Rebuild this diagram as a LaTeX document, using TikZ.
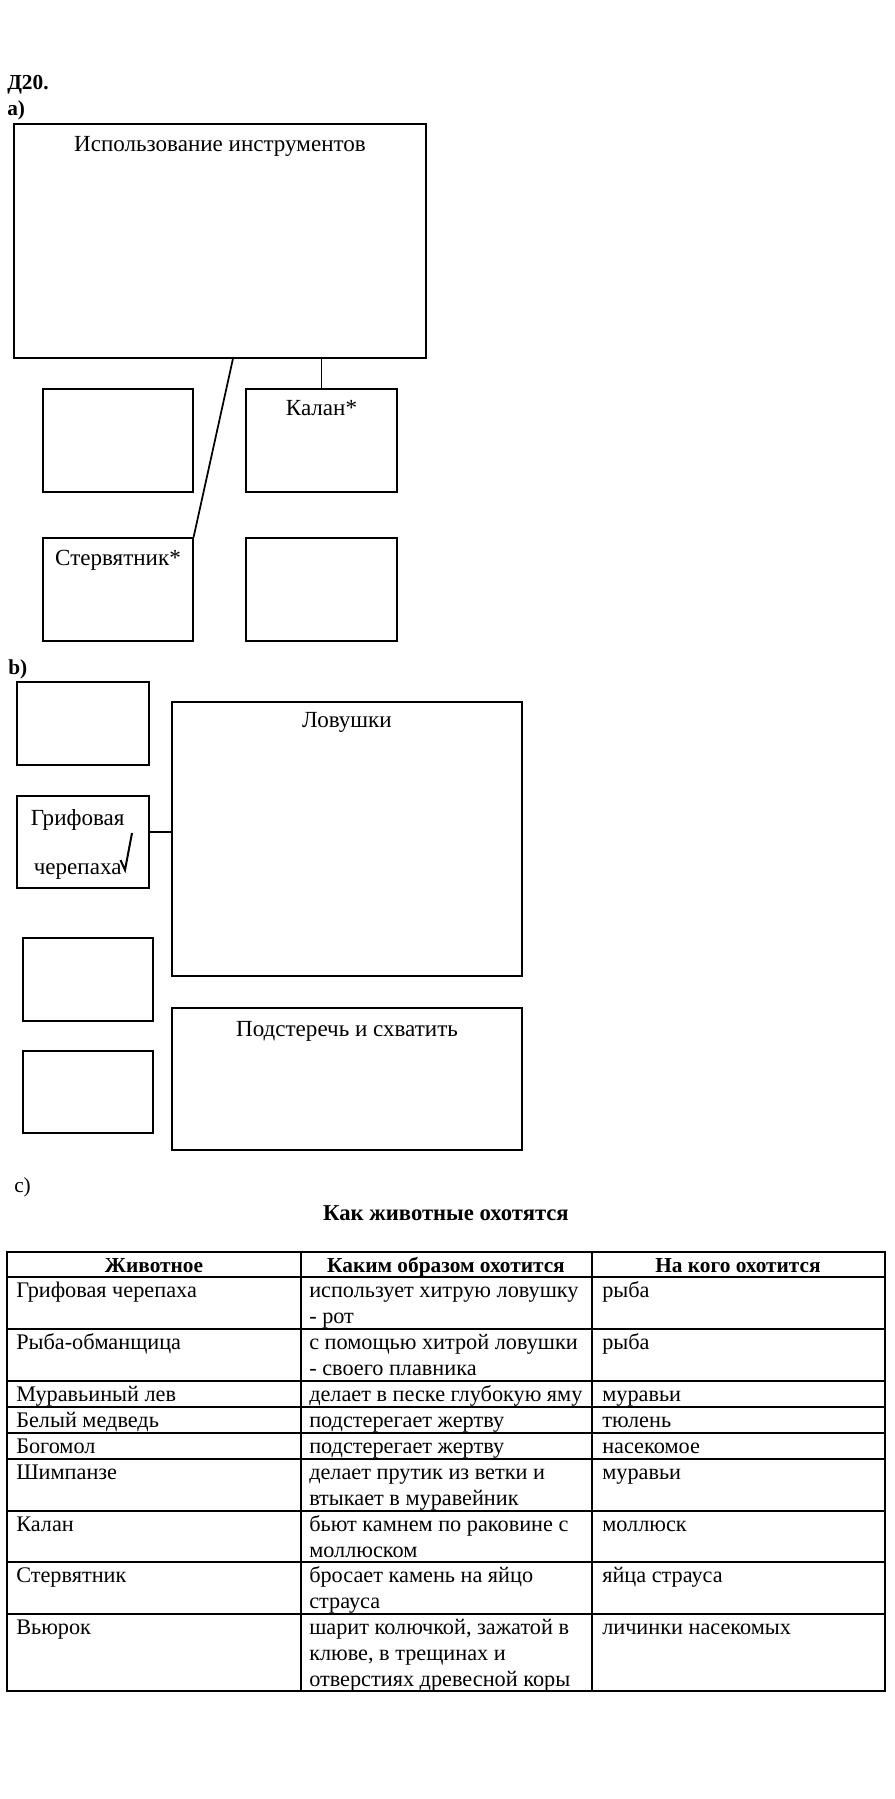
\documentclass[tikz,border=0pt]{standalone}
\usepackage{fontspec}
\setmainfont{Liberation Serif}
\usetikzlibrary{positioning}

\newcommand{\txtfont}{\fontsize{16}{19.5}\selectfont}
\newcommand{\headtxtfont}{\fontsize{17.3}{20}\selectfont}
\newcommand{\celltxtfont}{\fontsize{16.7}{19.5}\selectfont}
\newcommand{\bigtitlefont}{\fontsize{17}{20}\selectfont\bfseries}

\begin{document}
\begin{tikzpicture}[
    x=0.75pt, y=-0.75pt,
    box/.style={draw, line width=0.8pt, inner sep=0pt},
    heading/.style={font=\headtxtfont, inner sep=0pt},
    partlabel/.style={font=\txtfont\bfseries, inner sep=0pt, anchor=base west},
    link/.style={line width=1.3pt},
    grid/.style={line width=0.9pt},
    cell/.style={anchor=north west, inner sep=0pt, align=left, font=\celltxtfont},
    colhead/.style={anchor=base, inner sep=0pt, font=\txtfont\bfseries}
]
\useasboundingbox (0,0) rectangle (894,1799);

% labels of the parts
\node[partlabel] (task) at (7,89) {Д20.};
\node[partlabel] (parta) at (7,115) {a)};
\node[partlabel] (partb) at (8,674) {b)};
\node[partlabel, font=\txtfont] (partc) at (14,1192) {c)};

% a) tool use
\node[box, minimum width=309pt, minimum height=175.5pt] (tools) at (220,241) {};
\node[heading, below=9.5pt of tools.north] (toolstitle) {Использование инструментов};

\node[box, minimum width=112.5pt, minimum height=77.25pt] (aone) at (118,440.5) {};
\node[box, minimum width=113.25pt, minimum height=77.25pt] (kalan) at (321.5,440.5) {};
\node[heading, below=9pt of kalan.north] (kalantitle) {Калан*};
\node[box, minimum width=112.5pt, minimum height=77.25pt] (sterv) at (118,589.5) {};
\node[heading, below=9pt of sterv.north] (stervtitle) {Стервятник*};
\node[box, minimum width=113.25pt, minimum height=77.25pt] (afour) at (321.5,589.5) {};

\draw[link] ([xshift=9.75pt]tools.south) -- (sterv.north east);
\draw[link] (kalan.north) -- (kalan.north |- tools.south);

% b) traps and ambush
\node[box, minimum width=99pt, minimum height=62.25pt] (bone) at (83,723.5) {};
\node[box, minimum width=99pt, minimum height=69pt] (turtle) at (83,842) {};
\node[heading, align=center, below=10pt of turtle.north, xshift=-4pt] (turtletitle) {Грифовая\\[17pt]черепаха};
\node[box, minimum width=97.5pt, minimum height=62.25pt] (bthree) at (88,979.5) {};
\node[box, minimum width=97.5pt, minimum height=61.5pt] (bfour) at (88,1092) {};

\node[box, minimum width=262.5pt, minimum height=205.5pt] (traps) at (347,839) {};
\node[heading, below=8pt of traps.north] (trapstitle) {Ловушки};
\node[box, minimum width=262.5pt, minimum height=106.5pt] (ambush) at (347,1079) {};
\node[heading, below=10pt of ambush.north] (ambushtitle) {Подстеречь и схватить};

\draw[link] ([yshift=7.5pt]turtle.east) -- ([yshift=7.5pt]turtle.east -| traps.west);
% tick mark
\draw[link, line width=1.5pt] (120.5,860) -- (125,870) -- (132,833);

% c) table
\node[font=\bigtitlefont, inner sep=0pt, anchor=base] (tabtitle) at (446,1220) {Как животные охотятся};

\draw[grid] (7,1252) rectangle (885,1691);
\foreach \y in {1277,1329,1381,1407,1433,1459,1511,1562,1614}
    \draw[grid] (7,\y) -- (885,\y);
\foreach \x in {301,592}
    \draw[grid] (\x,1252) -- (\x,1691);

\node[colhead] (hanimal) at (154,1272) {Животное};
\node[colhead] (hway) at (446,1272) {Каким образом охотится};
\node[colhead] (hprey) at (738,1272) {На кого охотится};

\foreach \y/\a/\b/\c [count=\i] in {
    1277/Грифовая черепаха/{использует хитрую ловушку\\- рот}/рыба,
    1329/Рыба-обманщица/{с помощью хитрой ловушки\\- своего плавника}/рыба,
    1381/Муравьиный лев/делает в песке глубокую яму/муравьи,
    1407/Белый медведь/подстерегает жертву/тюлень,
    1433/Богомол/подстерегает жертву/насекомое,
    1459/Шимпанзе/{делает прутик из ветки и\\втыкает в муравейник}/муравьи,
    1511/Калан/{бьют камнем по раковине с\\моллюском}/моллюск,
    1562/Стервятник/{бросает камень на яйцо\\страуса}/яйца страуса,
    1614/Вьюрок/{шарит колючкой, зажатой в\\клюве, в трещинах и\\отверстиях древесной коры}/личинки насекомых}{
    \node[cell] (animal\i) at (16,\y+2) {\strut\a};
    \node[cell] (way\i) at (309,\y+2) {\strut\b};
    \node[cell] (prey\i) at (602,\y+2) {\strut\c};
}

\end{tikzpicture}
\end{document}
